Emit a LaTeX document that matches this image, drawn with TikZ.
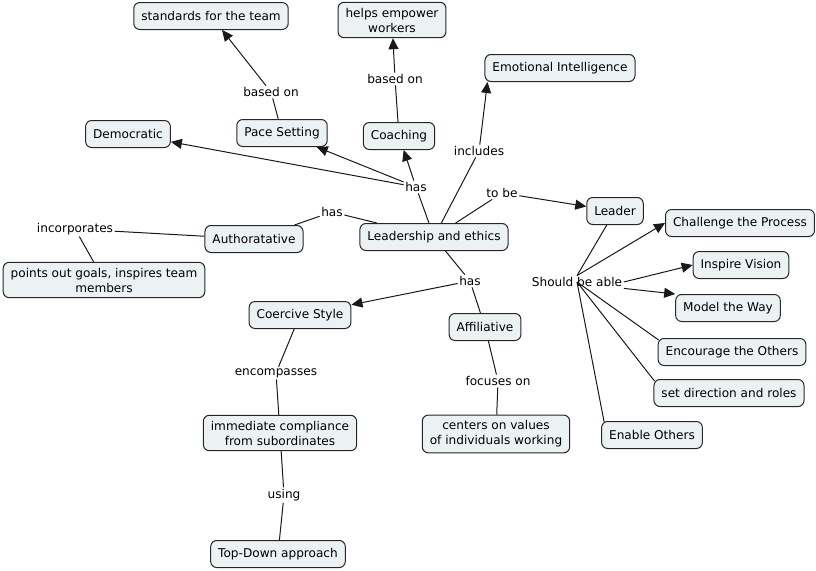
\documentclass[tikz,border=0pt]{standalone}
\usepackage{fontspec}
\setmainfont{DejaVu Sans}
\usetikzlibrary{arrows.meta}
\definecolor{boxfill}{RGB}{236,242,244}
\tikzset{
 concept/.style={draw=black!85, fill=boxfill, rounded corners=6pt, line width=1pt, minimum height=27pt, inner xsep=7.5pt, inner ysep=3pt, align=center, font=\fontsize{12.1}{15}\selectfont},
 twoline/.style={concept, inner ysep=5.5pt},
 lbl/.style={inner sep=1.5pt, font=\fontsize{12.1}{15}\selectfont},
 link/.style={line width=1pt, draw=black!90},
 arr/.style={link, -{Triangle[length=11pt,width=10pt]}},
}
\begin{document}
\begin{tikzpicture}[x=1pt,y=-1pt]
\useasboundingbox (0,0) rectangle (816,570);
% concepts
\node[concept] (std) at (211,16) {standards for the team};
\node[twoline] (emp) at (392,20) {helps empower\\workers};
\node[concept] (emo) at (560,68) {Emotional Intelligence};
\node[concept] (dem) at (128,134) {Democratic};
\node[concept] (pace) at (282,133) {Pace Setting};
\node[concept] (coach) at (399,136) {Coaching};
\node[concept] (leader) at (615,211) {Leader};
\node[concept] (chal) at (740,223) {Challenge the Process};
\node[concept] (insp) at (741,265) {Inspire Vision};
\node[concept] (model) at (728,308) {Model the Way};
\node[concept] (enco) at (732,352) {Encourage the Others};
\node[concept] (setd) at (729,393) {set direction and roles};
\node[concept] (enable) at (652,435) {Enable Others};
\node[concept] (le) at (434,237) {Leadership and ethics};
\node[concept] (auth) at (254,239) {Authoratative};
\node[twoline] (pog) at (104,280) {points out goals, inspires team\\members};
\node[concept] (coer) at (300,315) {Coercive Style};
\node[concept] (affil) at (485,327) {Affiliative};
\node[twoline] (imm) at (280,433) {immediate compliance\\from subordinates};
\node[twoline] (cent) at (496,434) {centers on values\\of individuals working};
\node[concept] (topd) at (278,554) {Top-Down approach};
% labels
\node[lbl] (bo1) at (271,92) {based on};
\node[lbl] (bo2) at (395,79) {based on};
\node[lbl] (inc) at (479,151) {includes};
\node[lbl] (has1) at (416,187) {has};
\node[lbl] (tobe) at (502,193) {to be};
\node[lbl] (has2) at (332,212) {has};
\node[lbl] (incorp) at (75,229) {incorporates};
\node[lbl] (has3) at (470,281) {has};
\node[lbl] (sba) at (577,282) {Should be able};
\node[lbl] (encl) at (276,373) {encompasses};
\node[lbl] (foc) at (498,381) {focuses on};
\node[lbl] (using) at (284,495) {using};
% connectors
\draw[link] (le) -- (has1);
\draw[arr] (has1) -- (dem);
\draw[arr] (has1) -- (pace);
\draw[arr] (has1) -- (coach);
\draw[link] (pace) -- (bo1);
\draw[arr] (bo1) -- (std);
\draw[link] (coach) -- (bo2);
\draw[arr] (bo2) -- (emp);
\draw[link] (le) -- (inc);
\draw[arr] (inc) -- ([xshift=3pt]emo.south west);
\draw[link] (le) -- (tobe);
\draw[arr] (tobe) -- (leader);
\draw[link] (le) -- (has2);
\draw[link] (has2) -- (auth);
\draw[link] (auth) -- (incorp);
\draw[link] (incorp) -- (pog);
\draw[link] (le) -- (has3);
\draw[arr] (has3) -- (coer);
\draw[link] (has3) -- (affil);
\draw[link] (coer) -- (encl);
\draw[link] (encl) -- (imm);
\draw[link] (imm) -- (using);
\draw[link] (using) -- (topd);
\draw[link] (affil) -- (foc);
\draw[link] (foc) -- (cent);
\draw[link] (leader) -- (sba.north);
\draw[arr] (sba.north) -- (chal.west);
\draw[arr] (sba.east) -- (insp.west);
\draw[arr] (sba.south east) -- (model.north west);
\draw[link] (sba.center) -- ([xshift=1pt,yshift=-2pt]enco.north west);
\draw[link] (sba.center) -- ([xshift=1pt,yshift=-2pt]setd.north west);
\draw[link] (sba.center) -- ([xshift=3pt,yshift=-1pt]enable.north west);
\end{tikzpicture}
\end{document}
